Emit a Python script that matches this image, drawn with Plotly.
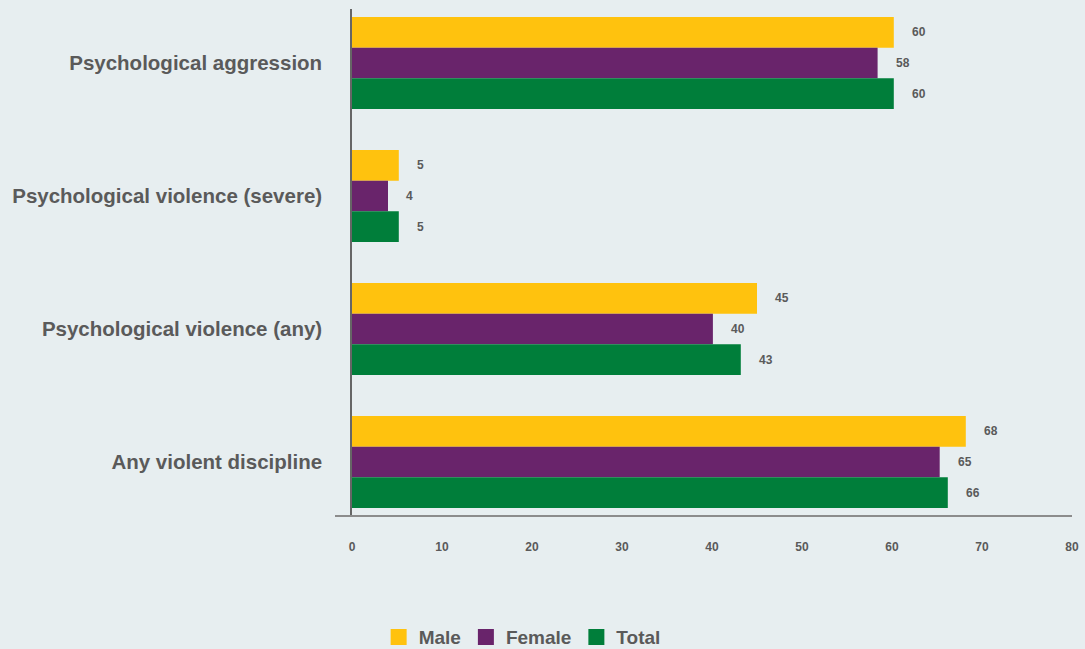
import plotly.graph_objects as go

categories = ["Psychological aggression", "Psychological violence (severe)",
              "Psychological violence (any)", "Any violent discipline"]
male = [60.2, 5.2, 45.0, 68.2]
female = [58.4, 4.0, 40.1, 65.3]
total = [60.2, 5.2, 43.2, 66.2]
male_lbl = ["60", "5", "45", "68"]
female_lbl = ["58", "4", "40", "65"]
total_lbl = ["60", "5", "43", "66"]
x_ticks = [0, 10, 20, 30, 40, 50, 60, 70, 80]

series = [("Male", male, male_lbl, "#FFC20E"),
          ("Female", female, female_lbl, "#69246B"),
          ("Total", total, total_lbl, "#007E3A")]

TXT = "#5A5A5A"
BG = "#E7EEF0"
FONT = "Liberation Sans, Arial, sans-serif"

fig = go.Figure()
for name, vals, lbls, col in series:
    fig.add_trace(go.Bar(y=categories, x=vals, name=name, orientation="h",
                         marker=dict(color=col, line=dict(width=0)),
                         showlegend=False, hoverinfo="x+name"))
for name, vals, lbls, col in series:
    fig.add_trace(go.Scatter(x=[None], y=[None], mode="markers",
                             name="<b>%s</b>" % name,
                             marker=dict(symbol="square", size=17, color=col)))

# value labels
shifts = {"Male": 31, "Female": 0, "Total": -31}
for name, vals, lbls, col in series:
    for c, v, l in zip(categories, vals, lbls):
        fig.add_annotation(x=v, y=c, text="<b>%s</b>" % l, showarrow=False,
                           xanchor="left", yanchor="middle", xshift=16,
                           yshift=shifts[name],
                           font=dict(family=FONT, size=12, color=TXT))

fig.add_shape(type="line", xref="paper", yref="paper", x0=-0.0236, x1=1.0,
              y0=0, y1=0, line=dict(color="#8C8C8C", width=2))

fig.update_layout(
    width=1085, height=649,
    margin=dict(l=352, r=13, t=9, b=133, autoexpand=False),
    paper_bgcolor=BG, plot_bgcolor=BG,
    barmode="group", bargap=0.31, bargroupgap=0,
    font=dict(family=FONT, color=TXT),
    legend=dict(orientation="h", x=0.037, xanchor="left", y=-0.239,
                yanchor="middle", font=dict(family=FONT, size=19, color=TXT),
                bgcolor="rgba(0,0,0,0)", itemclick=False),
    xaxis=dict(range=[0, 80], tickvals=x_ticks,
               ticktext=["<b>%d</b>" % t for t in x_ticks],
               showgrid=False, zeroline=False, showline=False, ticks="",
               ticklabelstandoff=22,
               tickfont=dict(family=FONT, size=12, color=TXT)),
    yaxis=dict(categoryorder="array", categoryarray=categories,
               range=[3.406, -0.406], showgrid=False, zeroline=False,
               showline=True, linecolor="#666666", linewidth=1.5, ticks="",
               tickvals=categories,
               ticktext=["<b>%s</b>" % c for c in categories],
               ticklabelstandoff=24,
               tickfont=dict(family=FONT, size=20.5, color=TXT)),
)

fig.write_html("out.html")
